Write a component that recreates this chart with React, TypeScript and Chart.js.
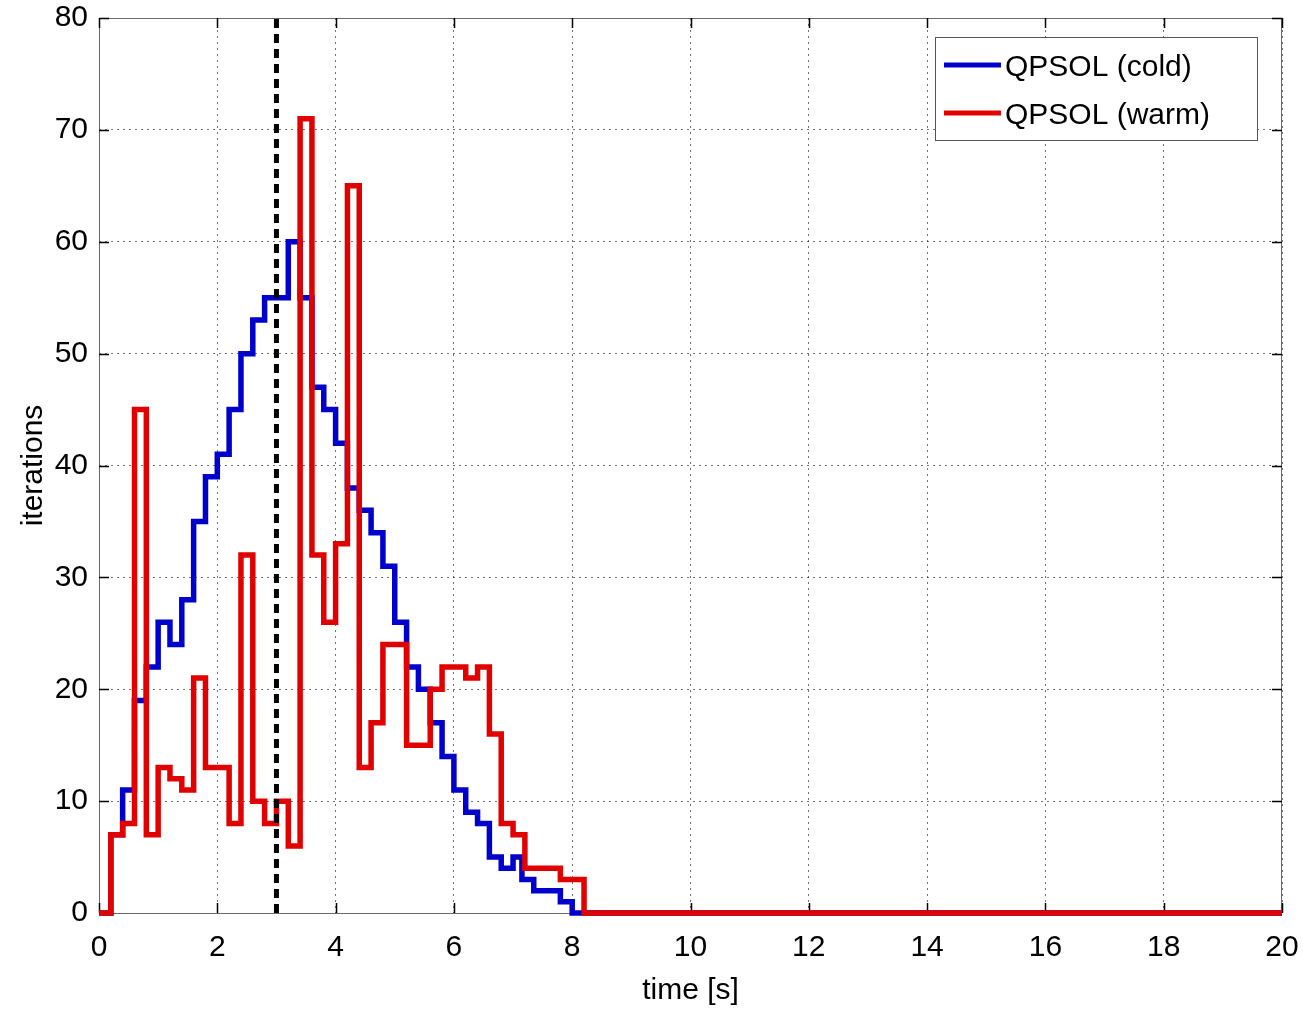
import React, { useEffect, useRef } from "react";
import { Chart, registerables } from "chart.js";

Chart.register(...registerables);

// ---- data ----
// Each value holds from its time until the next time (step plot).
const coldTimes = [0, 0.2, 0.4, 0.6, 0.8, 1.0, 1.2, 1.4, 1.6, 1.8, 2.0, 2.2, 2.4, 2.6, 2.8, 3.2, 3.4, 3.6, 3.8, 4.0, 4.2, 4.4, 4.6, 4.8, 5.0, 5.2, 5.4, 5.6, 5.8, 6.0, 6.2, 6.4, 6.6, 6.8, 7.0, 7.15, 7.35, 7.8, 8.0, 20];
const coldValues = [0, 7, 11, 19, 22, 26, 24, 28, 35, 39, 41, 45, 50, 53, 55, 60, 55, 47, 45, 42, 38, 36, 34, 31, 26, 22, 20, 17, 14, 11, 9, 8, 5, 4, 5, 3, 2, 1, 0, 0];

const warmTimes = [0, 0.2, 0.4, 0.6, 0.8, 1.0, 1.2, 1.4, 1.6, 1.8, 2.2, 2.4, 2.6, 2.8, 3.0, 3.2, 3.4, 3.6, 3.8, 4.0, 4.2, 4.4, 4.6, 4.8, 5.2, 5.6, 5.8, 6.2, 6.4, 6.6, 6.8, 7.0, 7.2, 7.8, 8.2, 20];
const warmValues = [0, 7, 8, 45, 7, 13, 12, 11, 21, 13, 8, 32, 10, 8, 10, 6, 71, 32, 26, 33, 65, 13, 17, 24, 15, 20, 22, 21, 22, 16, 8, 7, 4, 3, 0, 0];

const markerTimes = [3, 3];
const markerValues = [0, 80];

const xTickValues = [0, 2, 4, 6, 8, 10, 12, 14, 16, 18, 20];
const yTickValues = [0, 10, 20, 30, 40, 50, 60, 70, 80];

const seriesLabels = ["QPSOL (cold)", "QPSOL (warm)"];
const xTitle = "time [s]";
const yTitle = "iterations";

const BLUE = "rgb(0,0,205)";
const RED = "rgb(225,0,0)";
const FONT = "'Liberation Sans', Arial, Helvetica, sans-serif";

const toPoints = (ts: number[], vs: number[]) => ts.map((t, i) => ({ x: t, y: vs[i] }));

const framePlugin = {
  id: "matlabFrame",
  beforeDatasetsDraw(chart: any) {
    const { ctx, chartArea: a, scales } = chart;
    ctx.save();
    ctx.strokeStyle = "#6a6a6a";
    ctx.lineWidth = 1;
    ctx.strokeRect(a.left + 0.5, a.top + 0.5, a.right - a.left - 1, a.bottom - a.top);
    ctx.strokeStyle = "#000";
    ctx.lineWidth = 1.5;
    const L = 10;
    ctx.beginPath();
    for (const v of xTickValues) {
      const px = Math.round(scales.x.getPixelForValue(v)) + 0.5;
      ctx.moveTo(px, a.bottom);
      ctx.lineTo(px, a.bottom - L);
      ctx.moveTo(px, a.top);
      ctx.lineTo(px, a.top + L);
    }
    for (const v of yTickValues) {
      const py = Math.round(scales.y.getPixelForValue(v)) + 0.5;
      ctx.moveTo(a.left, py);
      ctx.lineTo(a.left + L, py);
      ctx.moveTo(a.right, py);
      ctx.lineTo(a.right - L, py);
    }
    ctx.stroke();
    ctx.restore();
  },
  afterDraw(chart: any) {
    const { ctx, chartArea: a } = chart;
    const w = 322;
    const h = 103;
    const x0 = a.right - 25 - w;
    const y0 = a.top + 19;
    ctx.save();
    ctx.fillStyle = "#fff";
    ctx.fillRect(x0, y0, w, h);
    ctx.strokeStyle = "#555";
    ctx.lineWidth = 1;
    ctx.strokeRect(x0 + 0.5, y0 + 0.5, w, h);
    const rows = [
      { label: seriesLabels[0], color: BLUE, y: y0 + 28 },
      { label: seriesLabels[1], color: RED, y: y0 + 76 },
    ];
    ctx.font = `30px ${FONT}`;
    ctx.textBaseline = "middle";
    ctx.textAlign = "left";
    for (const r of rows) {
      ctx.strokeStyle = r.color;
      ctx.lineWidth = 5;
      ctx.beginPath();
      ctx.moveTo(x0 + 9, r.y);
      ctx.lineTo(x0 + 66, r.y);
      ctx.stroke();
      ctx.fillStyle = "#000";
      ctx.fillText(r.label, x0 + 70, r.y + 3);
    }
    ctx.restore();
  },
};

export default function App() {
  const canvasRef = useRef<HTMLCanvasElement | null>(null);

  useEffect(() => {
    const canvas = canvasRef.current;
    if (!canvas) return;
    const chart = new Chart(canvas, {
      type: "line",
      data: {
        datasets: [
          {
            label: "t = 3 s",
            data: toPoints(markerTimes, markerValues),
            borderColor: "#000",
            borderWidth: 5,
            borderDash: [9, 6],
            pointRadius: 0,
            fill: false,
            clip: false as any,
            order: 0,
          },
          {
            label: seriesLabels[1],
            data: toPoints(warmTimes, warmValues),
            borderColor: RED,
            borderWidth: 5.5,
            stepped: "before",
            pointRadius: 0,
            fill: false,
            borderJoinStyle: "miter",
            clip: false as any,
            order: 1,
          },
          {
            label: seriesLabels[0],
            data: toPoints(coldTimes, coldValues),
            borderColor: BLUE,
            borderWidth: 5.5,
            stepped: "before",
            pointRadius: 0,
            fill: false,
            borderJoinStyle: "miter",
            clip: false as any,
            order: 2,
          },
        ],
      },
      options: {
        animation: false,
        responsive: false,
        devicePixelRatio: 1,
        layout: { padding: { left: 0, right: 21, top: 18, bottom: 0 } },
        plugins: {
          legend: { display: false },
          tooltip: { enabled: false },
          title: { display: false },
        },
        scales: {
          x: {
            type: "linear",
            min: 0,
            max: 20,
            afterBuildTicks: (s: any) => {
              s.ticks = xTickValues.map((v) => ({ value: v }));
            },
            afterFit: (s: any) => {
              s.height = 96;
              s.paddingLeft = 0;
              s.paddingRight = 0;
            },
            grid: { color: "rgba(0,0,0,0.55)", lineWidth: 1, drawTicks: false },
            border: { display: false, dash: [2, 4] },
            ticks: {
              color: "#000",
              font: { family: FONT, size: 30 },
              padding: 17,
              maxRotation: 0,
              autoSkip: false,
            },
            title: {
              display: true,
              text: xTitle,
              color: "#000",
              font: { family: FONT, size: 30 },
              padding: { top: 0, bottom: 0 },
            },
          },
          y: {
            type: "linear",
            min: 0,
            max: 80,
            afterBuildTicks: (s: any) => {
              s.ticks = yTickValues.map((v) => ({ value: v }));
            },
            afterFit: (s: any) => {
              s.width = 99;
              s.paddingTop = 0;
              s.paddingBottom = 0;
            },
            grid: { color: "rgba(0,0,0,0.55)", lineWidth: 1, drawTicks: false },
            border: { display: false, dash: [2, 4] },
            ticks: {
              color: "#000",
              font: { family: FONT, size: 30 },
              padding: 11,
              autoSkip: false,
            },
            title: {
              display: true,
              text: yTitle,
              color: "#000",
              font: { family: FONT, size: 30 },
              padding: { top: 16, bottom: 0 },
            },
          },
        },
      },
      plugins: [framePlugin],
    });
    return () => chart.destroy();
  }, []);

  return (
    <div style={{ position: "fixed", left: 0, top: 0, width: 1303, height: 1009, background: "#fff" }}>
      <canvas ref={canvasRef} width={1303} height={1009} style={{ display: "block", width: 1303, height: 1009 }} />
    </div>
  );
}
